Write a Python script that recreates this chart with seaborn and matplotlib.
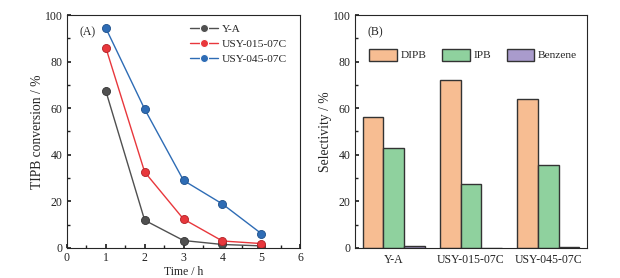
import numpy as np
import pandas as pd
import matplotlib
matplotlib.use("Agg")
import matplotlib.pyplot as plt
import seaborn as sns
from matplotlib.ticker import AutoMinorLocator

# ---- data ----
time_h = [1, 2, 3, 4, 5]
conv_YA = [67.4, 11.9, 3.2, 1.5, 0.9]
conv_USY015 = [86.0, 32.6, 12.4, 3.0, 1.9]
conv_USY045 = [94.4, 59.6, 29.0, 18.9, 6.2]
line_series = ["Y-A", "USY-015-07C", "USY-045-07C"]

catalysts = ["Y-A", "USY-015-07C", "USY-045-07C"]
sel_DIPB = [56.2, 72.3, 63.9]
sel_IPB = [43.1, 27.6, 35.8]
sel_Benzene = [0.7, 0.2, 0.4]
products = ["DIPB", "IPB", "Benzene"]

sns.set_theme(style="ticks")
plt.rcParams["font.family"] = ["Liberation Serif", "DejaVu Serif"]
plt.rcParams["font.size"] = 8
plt.rcParams["xtick.direction"] = "in"
plt.rcParams["ytick.direction"] = "in"
plt.rcParams["axes.linewidth"] = 0.8

TICK_FS = 8.5
XLAB_FS = 8.5
YLAB_FS = 9.8
LEG_FS = 8.2

fig = plt.figure(figsize=(6.2, 2.78), dpi=100)
ax1 = fig.add_axes([0.108, 0.108, 0.376, 0.838])
ax2 = fig.add_axes([0.5726, 0.108, 0.3742, 0.838])

# ---- panel A ----
df_line = pd.DataFrame({
    "Time": time_h * 3,
    "Conversion": conv_YA + conv_USY015 + conv_USY045,
    "Sample": sum([[s] * len(time_h) for s in line_series], []),
})
line_colors = ["#505050", "#E8373C", "#2E6CB5"]
edge_colors = ["#333333", "#B02025", "#1D4F8A"]
sns.lineplot(data=df_line, x="Time", y="Conversion", hue="Sample",
             palette=line_colors, marker="o", markersize=5.8, linewidth=1.0,
             ax=ax1, legend=True)
for ln, ec in zip(ax1.lines, edge_colors):
    ln.set_markeredgecolor(ec)
    ln.set_markeredgewidth(0.6)
ax1.set_xlim(0, 6)
ax1.set_ylim(0, 100)
ax1.set_xticks(range(0, 7))
ax1.set_yticks(range(0, 101, 20))
ax1.xaxis.set_minor_locator(AutoMinorLocator(2))
ax1.yaxis.set_minor_locator(AutoMinorLocator(2))
ax1.tick_params(which="both", top=False, right=False, labelsize=TICK_FS, colors="#222222", pad=3)
ax1.tick_params(which="major", length=3)
ax1.tick_params(which="minor", length=2)
ax1.set_xlabel("Time / h", fontsize=XLAB_FS, labelpad=1)
ax1.set_ylabel("TIPB conversion / %", fontsize=YLAB_FS, labelpad=1)
ax1.text(0.052, 0.925, "(A)", transform=ax1.transAxes, fontsize=8.5, va="center")
leg1 = ax1.legend(title=None, frameon=False, loc="upper left",
                  bbox_to_anchor=(0.528, 0.96), fontsize=LEG_FS, handlelength=2.45,
                  labelspacing=0.42, handletextpad=0.35, borderaxespad=0, borderpad=0)
for spine in ax1.spines.values():
    spine.set_visible(True)

# ---- panel B ----
df_bar = pd.DataFrame({
    "Catalyst": catalysts * 3,
    "Selectivity": sel_DIPB + sel_IPB + sel_Benzene,
    "Product": sum([[p] * len(catalysts) for p in products], []),
})
bar_colors = ["#F7BD92", "#8FD19E", "#A99BCC"]
sns.barplot(data=df_bar, x="Catalyst", y="Selectivity", hue="Product",
            palette=bar_colors, width=0.8, edgecolor="#333333", linewidth=1.0,
            saturation=1, ax=ax2)
ax2.set_xlim(-0.5, 2.5)
ax2.set_ylim(0, 100)
ax2.set_yticks(range(0, 101, 20))
ax2.yaxis.set_minor_locator(AutoMinorLocator(2))
ax2.tick_params(axis="y", which="both", right=False, labelsize=TICK_FS, colors="#222222", pad=3)
ax2.tick_params(axis="y", which="major", length=3)
ax2.tick_params(axis="y", which="minor", length=2)
ax2.tick_params(axis="x", length=0, labelsize=TICK_FS, colors="#222222", pad=4)
ax2.set_xlabel("")
ax2.set_ylabel("Selectivity / %", fontsize=YLAB_FS, labelpad=1)
ax2.text(0.055, 0.925, "(B)", transform=ax2.transAxes, fontsize=8.5, va="center")
ax2.legend(title=None, frameon=False, ncol=3, loc="upper left",
           bbox_to_anchor=(0.06, 0.856), fontsize=LEG_FS, handlelength=2.45,
           handleheight=1.26, columnspacing=1.35, handletextpad=0.33,
           borderaxespad=0, borderpad=0)
for spine in ax2.spines.values():
    spine.set_visible(True)

fig.savefig("out.png", dpi=100)
